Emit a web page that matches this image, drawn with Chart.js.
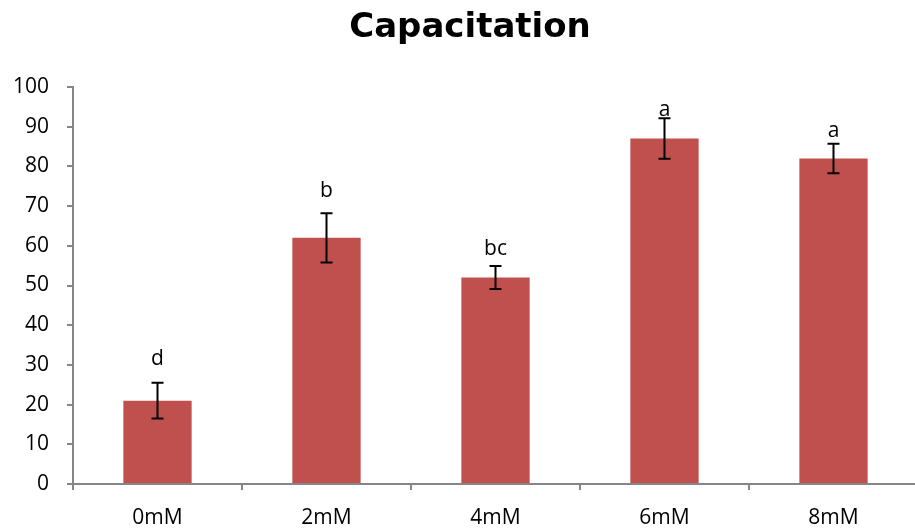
<!DOCTYPE html>
<html>
<head>
<meta charset="utf-8">
<script src="https://cdn.jsdelivr.net/npm/chart.js@4.4.1/dist/chart.umd.min.js"></script>
<style>
html,body{margin:0;padding:0;background:#fff;overflow:hidden;}
#wrap{width:918px;height:550px;}
</style>
</head>
<body>
<div id="wrap"><canvas id="grafico" width="918" height="550"></canvas></div>
<script>
// dados
const titulo = "Capacitation";
const categorias = ["0mM","2mM","4mM","6mM","8mM"];
const valores = [21, 62, 52, 87, 82];
const erros = [4.5, 6.2, 2.9, 5.1, 3.7];
const letras = ["d","b","bc","a","a"];
const alturaLetras = [30.0, 72.2, 57.6, 92.8, 87.3];
const ticksY = [0,10,20,30,40,50,60,70,80,90,100];

const FONTE = "'Open Sans', sans-serif";
const CINZA = "#868686";

// titulo, barras de erro + letras
const extras = {
id:"extras",
afterDraw(chart){
const ctx = chart.ctx;
ctx.save();
ctx.fillStyle = "#000";
ctx.font = "bold 34px 'DejaVu Sans', sans-serif";
ctx.textAlign = "center";
ctx.textBaseline = "alphabetic";
ctx.fillText(titulo, 470, 37);
ctx.restore();
},
afterDatasetsDraw(chart){
const ctx = chart.ctx;
const y = chart.scales.y;
const meta = chart.getDatasetMeta(0);
ctx.save();
ctx.strokeStyle = "#000";
ctx.lineWidth = 2;
meta.data.forEach((bar,i)=>{
const x = bar.x;
const top = y.getPixelForValue(valores[i]+erros[i]);
const bot = y.getPixelForValue(valores[i]-erros[i]);
ctx.beginPath();
ctx.moveTo(x,top); ctx.lineTo(x,bot);
ctx.moveTo(x-6,top); ctx.lineTo(x+6,top);
ctx.moveTo(x-6,bot); ctx.lineTo(x+6,bot);
ctx.stroke();
});
ctx.fillStyle = "#000";
ctx.font = "21px " + FONTE;
ctx.textAlign = "center";
ctx.textBaseline = "alphabetic";
meta.data.forEach((bar,i)=>{
ctx.fillText(letras[i], bar.x, y.getPixelForValue(alturaLetras[i]));
});
ctx.restore();
}
};

new Chart(document.getElementById("grafico"),{
type:"bar",
data:{
labels:categorias,
datasets:[{
data:valores,
backgroundColor:"#C0504D",
categoryPercentage:1,
barPercentage:0.404
}]
},
options:{
responsive:false,
animation:false,
layout:{padding:{top:87,left:0,right:0,bottom:0}},
plugins:{
legend:{display:false},
tooltip:{enabled:false},
title:{display:false}
},
scales:{
y:{
min:0,max:100,
afterFit(s){ s.width = 73; },
afterBuildTicks(s){ s.ticks = ticksY.map(v=>({value:v})); },
grid:{drawOnChartArea:false,drawTicks:true,tickLength:6,color:CINZA,lineWidth:2},
border:{display:true,color:CINZA,width:2},
ticks:{color:"#000",padding:18,font:{family:FONTE,size:21}}
},
x:{
afterFit(s){ s.height = 66; },
grid:{drawOnChartArea:false,drawTicks:true,tickLength:6,color:CINZA,lineWidth:2,offset:true},
border:{display:true,color:CINZA,width:2},
ticks:{color:"#000",padding:15,font:{family:FONTE,size:21}}
}
}
},
plugins:[extras]
});
</script>
</body>
</html>
